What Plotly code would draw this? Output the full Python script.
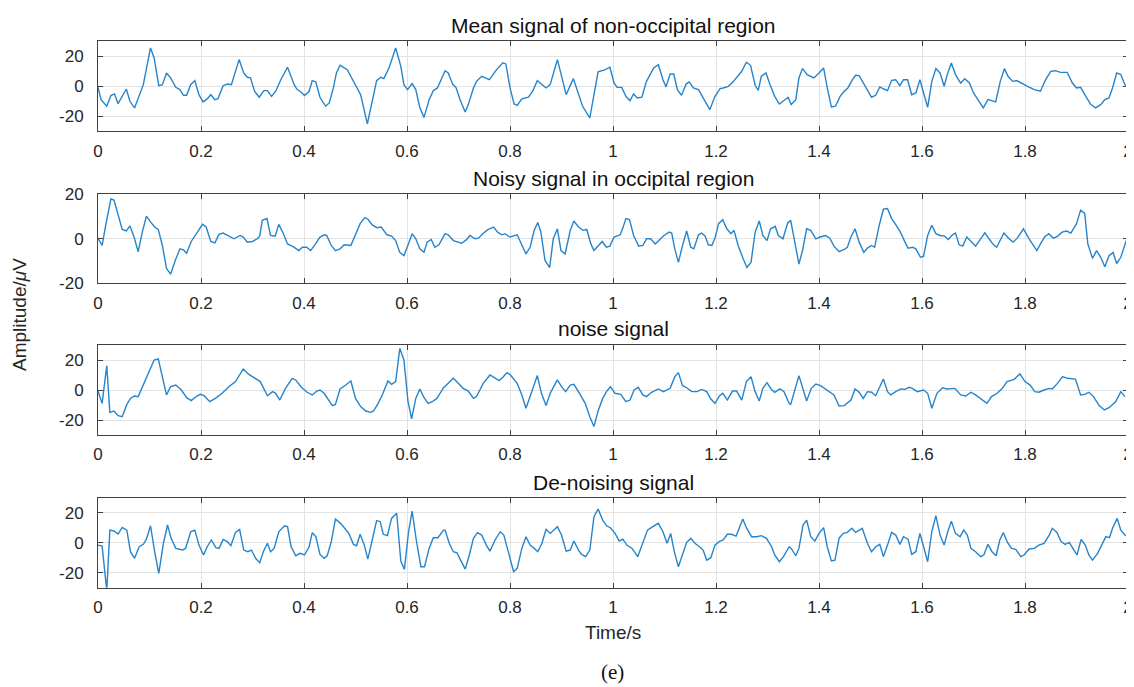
import plotly.graph_objects as go

# ---------------- data: (time [s], amplitude [uV]) ----------------
mean_signal = [
(0.000,-0.7),(0.006,-8.9),(0.017,-13.3),(0.025,-6.2),(0.032,-5.1),(0.039,-11.6),(0.055,-1.8),(0.062,-10.0),
(0.071,-14.4),(0.088,1.1),(0.102,25.6),(0.109,18.9),(0.118,0.4),(0.125,1.1),(0.133,8.9),(0.141,5.6),
(0.151,-0.7),(0.159,-2.2),(0.166,-6.0),(0.172,-6.0),(0.180,1.1),(0.188,3.8),(0.196,-5.6),(0.204,-10.4),
(0.212,-8.4),(0.219,-5.6),(0.227,-8.9),(0.233,-8.2),(0.243,0.4),(0.251,1.5),(0.259,1.1),(0.274,17.8),
(0.283,8.9),(0.290,6.0),(0.296,5.6),(0.304,-3.3),(0.313,-7.3),(0.322,-2.9),(0.329,-2.9),(0.337,-6.7),
(0.345,-3.3),(0.355,4.4),(0.368,12.7),(0.381,1.1),(0.386,-1.8),(0.394,-3.8),(0.401,-6.2),(0.410,-3.3),
(0.416,3.8),(0.423,2.9),(0.431,-7.3),(0.442,-13.3),(0.449,-11.1),(0.457,-1.1),(0.463,8.9),(0.470,14.0),
(0.484,11.1),(0.494,4.4),(0.504,-2.2),(0.510,-5.6),(0.523,-25.1),(0.533,-7.8),(0.541,3.8),(0.549,6.0),
(0.555,5.1),(0.565,12.2),(0.578,25.6),(0.588,13.3),(0.594,1.1),(0.601,-2.2),(0.610,1.8),(0.617,-2.2),
(0.625,-14.4),(0.633,-20.7),(0.643,-8.9),(0.651,-2.9),(0.659,-1.1),(0.674,10.4),(0.680,8.9),(0.689,1.1),
(0.695,-0.7),(0.703,-8.9),(0.713,-17.1),(0.719,-12.2),(0.729,-1.1),(0.735,3.3),(0.745,6.7),(0.760,4.4),
(0.774,11.1),(0.786,15.6),(0.792,14.9),(0.800,-1.1),(0.808,-11.8),(0.814,-12.7),(0.823,-8.4),(0.836,-7.3),
(0.844,-3.3),(0.853,3.8),(0.862,1.5),(0.870,-1.1),(0.878,1.1),(0.892,17.8),(0.901,5.6),(0.909,-5.6),
(0.923,5.1),(0.933,-5.6),(0.941,-13.3),(0.955,-21.1),(0.965,-3.3),(0.971,9.6),(0.984,10.9),(0.994,12.7),
(1.002,2.2),(1.008,-0.7),(1.017,-0.7),(1.025,-6.7),(1.033,-9.6),(1.040,-5.1),(1.047,-7.8),(1.056,-7.3),
(1.065,3.3),(1.079,12.2),(1.088,14.4),(1.097,4.4),(1.103,-0.4),(1.111,8.2),(1.118,8.2),(1.125,-2.2),
(1.133,-6.0),(1.142,1.5),(1.148,2.9),(1.156,-1.1),(1.166,-2.2),(1.175,-7.3),(1.188,-15.6),(1.198,-6.7),
(1.208,-1.5),(1.214,-1.1),(1.224,0.0),(1.234,3.3),(1.250,10.0),(1.259,16.0),(1.267,14.0),(1.276,0.7),
(1.282,-2.7),(1.288,6.7),(1.297,8.9),(1.305,1.1),(1.314,-6.7),(1.323,-11.8),(1.331,-9.6),(1.340,-7.3),
(1.346,-12.2),(1.355,-8.9),(1.361,5.6),(1.368,11.8),(1.377,7.8),(1.390,5.6),(1.400,8.9),(1.409,12.2),
(1.416,-1.1),(1.424,-13.8),(1.432,-13.3),(1.441,-6.7),(1.449,-3.3),(1.456,-1.1),(1.465,4.4),(1.471,7.3),
(1.478,7.1),(1.491,-0.7),(1.502,-7.3),(1.510,-6.0),(1.518,-0.4),(1.526,-1.8),(1.533,-2.9),(1.541,4.0),
(1.549,4.4),(1.557,0.4),(1.564,4.4),(1.572,4.4),(1.580,-5.6),(1.588,-4.4),(1.596,4.4),(1.604,-5.6),
(1.611,-14.0),(1.619,3.3),(1.627,11.8),(1.635,8.9),(1.643,0.0),(1.649,7.8),(1.657,15.6),(1.665,7.8),
(1.675,2.2),(1.683,5.1),(1.692,2.2),(1.700,-4.4),(1.708,-8.9),(1.719,-14.4),(1.728,-8.9),(1.737,-9.6),
(1.743,-10.4),(1.752,3.3),(1.760,11.8),(1.767,6.7),(1.776,3.3),(1.784,3.8),(1.792,2.2),(1.805,0.0),
(1.818,-2.2),(1.830,-3.3),(1.840,4.4),(1.850,10.0),(1.859,10.4),(1.869,9.3),(1.882,9.3),(1.892,2.2),
(1.900,-1.1),(1.908,-0.7),(1.918,-6.7),(1.928,-12.2),(1.937,-14.4),(1.947,-12.2),(1.955,-8.9),(1.963,-7.8),
(1.970,-1.1),(1.978,8.9),(1.986,7.8),(1.994,1.1),(2.000,0.0),
]

noisy_signal = [
(0.000,0.3),(0.008,-3.0),(0.015,6.1),(0.025,17.9),(0.031,17.4),(0.039,10.6),(0.047,4.2),(0.055,3.5),
(0.062,5.8),(0.070,0.8),(0.078,-5.8),(0.086,3.0),(0.094,10.2),(0.102,7.6),(0.110,5.3),(0.117,4.2),
(0.125,-3.0),(0.133,-13.3),(0.141,-15.9),(0.150,-9.8),(0.159,-4.5),(0.166,-5.0),(0.172,-6.5),(0.181,-1.2),
(0.190,1.8),(0.198,4.5),(0.203,6.5),(0.210,5.3),(0.219,-1.2),(0.227,-1.8),(0.235,2.0),(0.243,2.6),
(0.251,1.5),(0.264,0.0),(0.276,1.5),(0.282,0.8),(0.290,-1.5),(0.300,-1.2),(0.309,0.0),(0.314,1.2),
(0.319,8.3),(0.328,9.1),(0.335,1.5),(0.344,1.2),(0.351,6.5),(0.360,2.3),(0.368,-2.3),(0.379,-3.5),
(0.390,-5.3),(0.397,-3.8),(0.405,-3.8),(0.413,-5.3),(0.421,-2.7),(0.431,0.8),(0.439,1.8),(0.444,1.5),
(0.453,-3.0),(0.461,-5.3),(0.470,-4.5),(0.478,-2.7),(0.491,-3.0),(0.500,1.8),(0.509,6.8),(0.518,9.5),
(0.524,8.8),(0.533,6.1),(0.542,5.0),(0.550,5.3),(0.561,1.8),(0.570,1.2),(0.578,-0.8),(0.586,-6.1),
(0.594,-7.6),(0.604,-1.5),(0.610,2.3),(0.617,0.0),(0.625,-4.5),(0.633,-6.1),(0.639,-1.5),(0.647,-0.3),
(0.654,-3.8),(0.662,-2.7),(0.674,2.3),(0.680,1.8),(0.690,-0.8),(0.706,-2.0),(0.715,-0.5),(0.722,1.5),
(0.732,0.0),(0.739,0.3),(0.747,2.3),(0.757,4.1),(0.768,5.3),(0.776,3.0),(0.784,1.8),(0.790,2.3),
(0.800,0.8),(0.814,1.8),(0.823,-3.0),(0.831,-6.8),(0.839,-3.8),(0.847,3.8),(0.854,7.3),(0.860,3.0),
(0.868,-9.8),(0.877,-12.9),(0.884,0.0),(0.892,4.5),(0.899,-5.3),(0.907,-6.8),(0.917,3.8),(0.924,8.0),
(0.933,5.3),(0.942,3.8),(0.949,4.2),(0.957,-2.3),(0.963,-5.3),(0.972,-3.0),(0.979,-1.2),(0.987,-3.8),
(0.994,-3.3),(1.002,0.8),(1.014,1.8),(1.019,4.8),(1.025,9.1),(1.032,8.6),(1.040,1.5),(1.050,-3.3),
(1.058,-3.0),(1.065,0.0),(1.073,0.0),(1.082,-2.3),(1.088,-0.8),(1.099,1.5),(1.109,3.0),(1.114,2.6),
(1.120,-4.5),(1.127,-10.6),(1.135,-3.0),(1.143,3.5),(1.151,-3.8),(1.157,-4.5),(1.166,1.8),(1.172,2.6),
(1.179,1.2),(1.185,-2.7),(1.192,-3.0),(1.198,0.3),(1.205,6.8),(1.213,8.6),(1.221,4.5),(1.229,2.3),
(1.235,3.8),(1.243,-3.0),(1.253,-9.1),(1.260,-12.9),(1.268,-10.6),(1.276,3.0),(1.284,8.0),(1.291,1.5),
(1.299,-0.8),(1.306,4.5),(1.315,5.6),(1.321,1.5),(1.330,0.0),(1.339,7.0),(1.345,8.3),(1.353,-2.3),
(1.361,-11.4),(1.368,-5.3),(1.376,4.5),(1.384,3.8),(1.394,0.0),(1.402,0.8),(1.413,1.5),(1.421,0.3),
(1.429,-3.3),(1.439,-5.8),(1.449,-4.8),(1.455,-3.8),(1.462,0.8),(1.470,4.5),(1.478,-1.5),(1.487,-6.1),
(1.494,-4.2),(1.502,-3.0),(1.508,-3.8),(1.517,6.1),(1.525,13.3),(1.533,13.6),(1.541,9.1),(1.549,6.4),
(1.558,3.0),(1.567,-1.5),(1.573,-4.2),(1.582,-3.8),(1.588,-4.5),(1.597,-8.3),(1.603,-7.9),(1.611,1.5),
(1.619,6.1),(1.627,2.3),(1.635,1.5),(1.644,1.2),(1.651,-0.3),(1.659,1.8),(1.665,2.6),(1.672,-2.7),
(1.679,-3.3),(1.687,0.8),(1.694,-0.8),(1.704,-3.3),(1.714,0.0),(1.722,2.7),(1.730,0.0),(1.739,-2.7),
(1.745,-3.8),(1.753,0.0),(1.759,2.6),(1.769,0.0),(1.777,-1.5),(1.785,0.3),(1.797,4.5),(1.808,0.0),
(1.816,-3.0),(1.823,-5.3),(1.830,-2.3),(1.838,0.8),(1.846,2.3),(1.855,0.3),(1.863,1.1),(1.872,3.0),
(1.881,3.5),(1.889,2.6),(1.900,6.8),(1.908,12.9),(1.916,11.4),(1.922,-2.3),(1.931,-8.8),(1.939,-5.3),
(1.947,-8.3),(1.955,-12.6),(1.963,-7.6),(1.971,-6.1),(1.978,-11.1),(1.986,-8.3),(2.000,1.5),
]

noise_signal = [
(0.000,-0.7),(0.008,-8.9),(0.017,16.2),(0.023,-14.9),(0.031,-14.0),(0.039,-17.1),(0.047,-17.8),(0.056,-9.6),
(0.063,-5.6),(0.071,-4.0),(0.078,-4.4),(0.086,2.2),(0.096,10.0),(0.109,20.0),(0.117,20.7),(0.125,7.8),
(0.133,-3.3),(0.141,2.2),(0.151,3.3),(0.162,0.0),(0.172,-5.1),(0.181,-7.1),(0.192,-4.0),(0.199,-2.9),
(0.206,-3.8),(0.217,-7.8),(0.228,-5.6),(0.241,-2.2),(0.254,2.2),(0.267,5.6),(0.282,14.0),(0.293,10.4),
(0.303,8.2),(0.315,5.6),(0.329,-3.8),(0.339,-1.1),(0.345,-2.2),(0.353,-6.7),(0.364,1.1),(0.377,7.8),
(0.384,6.7),(0.394,2.2),(0.406,-1.5),(0.416,-3.3),(0.425,-0.7),(0.431,0.0),(0.439,-2.2),(0.449,-7.3),
(0.455,-10.4),(0.461,-9.6),(0.470,0.7),(0.481,3.3),(0.491,6.0),(0.500,-5.6),(0.510,-11.1),(0.520,-14.0),
(0.529,-14.9),(0.535,-14.0),(0.544,-8.9),(0.552,-3.3),(0.563,6.0),(0.570,3.8),(0.578,5.6),(0.586,27.8),
(0.594,20.0),(0.602,-7.8),(0.609,-19.3),(0.617,-5.6),(0.625,0.7),(0.632,-4.4),(0.641,-8.9),(0.649,-7.8),
(0.658,-5.6),(0.671,1.5),(0.677,3.3),(0.690,7.8),(0.700,4.4),(0.709,1.1),(0.719,-0.7),(0.729,-5.6),
(0.735,-4.4),(0.748,4.4),(0.761,10.0),(0.771,7.8),(0.779,6.2),(0.787,8.9),(0.794,11.6),(0.801,10.0),
(0.814,4.4),(0.823,-3.3),(0.831,-12.2),(0.840,-3.3),(0.853,9.6),(0.861,-2.2),(0.870,-10.4),(0.878,-2.2),
(0.892,6.7),(0.900,2.2),(0.908,-1.1),(0.917,3.3),(0.924,3.8),(0.935,-2.2),(0.946,-8.9),(0.955,-17.8),
(0.963,-24.4),(0.971,-14.0),(0.980,-5.6),(0.988,-0.7),(0.995,2.2),(1.004,-2.2),(1.015,-2.9),(1.025,-7.8),
(1.033,-6.7),(1.041,0.0),(1.049,1.8),(1.058,-3.3),(1.065,-4.4),(1.075,-1.5),(1.088,0.7),(1.098,-1.1),
(1.111,1.1),(1.120,8.9),(1.127,11.6),(1.135,2.9),(1.143,1.5),(1.153,-1.1),(1.163,-1.1),(1.172,0.4),
(1.182,-1.1),(1.190,-6.0),(1.198,-8.9),(1.207,-3.8),(1.213,-2.2),(1.222,-6.7),(1.232,-0.7),(1.240,-0.7),
(1.250,-6.7),(1.259,5.6),(1.268,8.9),(1.276,-1.1),(1.284,-7.3),(1.291,1.1),(1.299,4.9),(1.307,0.7),
(1.314,-1.5),(1.324,0.7),(1.332,-1.1),(1.342,-8.9),(1.345,-9.6),(1.361,9.6),(1.376,-7.3),(1.385,1.1),
(1.394,4.0),(1.403,2.9),(1.416,0.0),(1.429,-3.3),(1.439,-10.7),(1.449,-10.4),(1.462,-6.7),(1.470,0.7),
(1.478,-1.5),(1.486,-5.6),(1.494,-1.1),(1.502,-1.5),(1.510,-3.8),(1.525,7.3),(1.533,-1.1),(1.539,-3.3),
(1.549,-1.1),(1.559,0.7),(1.567,0.4),(1.575,1.8),(1.581,1.1),(1.591,-1.1),(1.603,0.0),(1.611,-2.2),
(1.619,-12.2),(1.629,-2.2),(1.640,1.5),(1.648,0.7),(1.664,1.1),(1.675,-3.3),(1.685,-4.0),(1.695,-1.5),
(1.704,-3.3),(1.715,-6.0),(1.726,-8.9),(1.735,-4.4),(1.746,-2.2),(1.756,1.1),(1.765,5.6),(1.779,7.1),
(1.790,10.7),(1.800,5.6),(1.810,3.3),(1.819,-1.1),(1.827,-1.5),(1.837,0.0),(1.847,1.1),(1.853,0.7),
(1.863,4.4),(1.873,8.9),(1.882,7.8),(1.898,7.3),(1.908,-3.3),(1.916,-2.9),(1.924,-1.5),(1.933,-4.4),
(1.944,-10.4),(1.954,-13.3),(1.963,-11.8),(1.976,-7.8),(1.986,-1.1),(1.994,-4.4),
]

denoised_signal = [
(0.000,-1.6),(0.008,-2.2),(0.017,-32.0),(0.023,8.4),(0.031,7.8),(0.039,5.8),(0.047,10.2),(0.056,8.4),
(0.063,-6.0),(0.071,-10.4),(0.080,-2.7),(0.088,-1.1),(0.094,2.4),(0.102,11.3),(0.110,-6.0),(0.118,-20.4),
(0.127,-0.4),(0.135,11.8),(0.142,2.9),(0.151,-3.8),(0.164,-4.9),(0.170,-3.8),(0.180,7.3),(0.188,8.4),
(0.196,-1.6),(0.205,-8.2),(0.212,-2.7),(0.220,1.8),(0.229,-3.3),(0.235,-3.8),(0.243,2.2),(0.251,0.7),
(0.258,-2.0),(0.267,6.9),(0.275,8.9),(0.283,-4.9),(0.291,-6.0),(0.298,-4.9),(0.306,-10.4),(0.314,-13.3),
(0.321,-6.0),(0.329,-0.4),(0.335,-6.0),(0.342,-3.8),(0.351,7.3),(0.362,11.3),(0.368,10.7),(0.375,-2.7),
(0.384,-8.7),(0.392,-7.1),(0.401,-8.2),(0.410,-2.7),(0.416,6.7),(0.423,4.0),(0.431,-7.8),(0.439,-10.4),
(0.445,-8.7),(0.453,0.7),(0.461,15.8),(0.471,12.9),(0.479,9.6),(0.487,6.2),(0.496,-1.1),(0.502,-2.0),
(0.509,5.6),(0.517,-1.6),(0.524,-10.9),(0.533,2.9),(0.541,14.7),(0.548,14.0),(0.554,5.6),(0.562,4.7),
(0.570,16.2),(0.580,19.6),(0.588,-12.2),(0.595,-17.8),(0.603,7.3),(0.610,21.1),(0.618,1.8),(0.627,-16.0),
(0.634,-16.0),(0.643,-3.8),(0.651,3.3),(0.660,3.3),(0.671,8.4),(0.674,8.4),(0.682,-0.4),(0.690,-6.0),
(0.697,-6.7),(0.704,-11.6),(0.713,-17.6),(0.721,-8.2),(0.729,2.9),(0.737,6.7),(0.745,5.1),(0.754,-1.6),
(0.761,-5.6),(0.771,1.8),(0.781,7.3),(0.788,5.1),(0.797,-6.0),(0.807,-19.3),(0.814,-17.1),(0.823,-3.8),
(0.831,4.0),(0.839,-1.6),(0.847,-3.8),(0.854,-6.0),(0.862,-0.4),(0.870,8.9),(0.878,6.2),(0.892,10.7),
(0.900,5.1),(0.909,-5.6),(0.917,-4.9),(0.924,1.1),(0.933,-4.9),(0.939,-7.8),(0.947,-9.3),(0.955,-4.9),
(0.963,17.3),(0.971,22.4),(0.980,15.1),(0.988,11.1),(0.995,10.0),(1.004,6.2),(1.012,1.1),(1.019,2.4),
(1.027,-1.6),(1.037,-3.8),(1.048,-9.3),(1.058,0.7),(1.067,8.4),(1.075,10.2),(1.088,12.9),(1.097,7.3),
(1.105,-0.4),(1.112,6.2),(1.119,-6.0),(1.127,-16.0),(1.135,-7.1),(1.143,0.2),(1.151,2.9),(1.159,-0.4),
(1.168,-2.7),(1.175,-4.9),(1.182,-11.6),(1.190,-10.0),(1.198,-1.6),(1.206,0.7),(1.214,1.8),(1.222,5.6),
(1.230,5.6),(1.239,4.4),(1.252,15.8),(1.259,10.0),(1.269,4.0),(1.279,4.0),(1.288,4.7),(1.298,2.9),
(1.308,-2.7),(1.314,-8.2),(1.323,-12.7),(1.331,-9.3),(1.342,-2.7),(1.346,-3.8),(1.355,-8.7),(1.361,-3.8),
(1.369,11.8),(1.376,15.1),(1.384,4.0),(1.392,1.1),(1.400,6.2),(1.409,10.0),(1.416,-2.7),(1.424,-12.2),
(1.431,-11.6),(1.439,2.9),(1.447,6.2),(1.455,6.9),(1.464,9.6),(1.471,6.9),(1.484,9.6),(1.494,-0.4),
(1.502,-6.0),(1.510,-2.7),(1.518,-1.1),(1.525,-9.3),(1.533,-1.6),(1.541,6.9),(1.549,5.1),(1.557,-1.1),
(1.564,4.0),(1.573,2.4),(1.580,-7.8),(1.588,-6.0),(1.596,6.2),(1.604,-3.8),(1.611,-12.7),(1.619,7.3),
(1.627,18.0),(1.635,5.1),(1.643,-1.6),(1.650,7.3),(1.657,14.4),(1.665,6.2),(1.674,4.0),(1.681,8.4),
(1.688,5.1),(1.695,-3.8),(1.704,-6.0),(1.714,-9.3),(1.720,-8.2),(1.728,-1.1),(1.736,-6.0),(1.744,-8.7),
(1.751,1.8),(1.758,6.7),(1.766,0.2),(1.774,-3.8),(1.782,-4.4),(1.792,-9.3),(1.798,-8.2),(1.808,-4.2),
(1.818,-3.8),(1.827,-1.6),(1.837,-0.4),(1.847,5.1),(1.853,9.6),(1.862,6.9),(1.870,0.7),(1.878,-1.1),
(1.886,0.2),(1.895,-4.9),(1.901,-8.2),(1.909,2.2),(1.917,-1.6),(1.924,-8.2),(1.931,-11.6),(1.941,-7.1),
(1.951,-0.4),(1.957,4.0),(1.964,3.3),(1.970,9.6),(1.979,16.2),(1.986,8.4),(1.994,5.1),(2.000,4.0),
]

panel_titles = ["Mean signal of non-occipital region", "Noisy signal in occipital region",
                "noise signal", "De-noising signal"]
series = [mean_signal, noisy_signal, noise_signal, denoised_signal]
y_ranges = [[-30, 30], [-20, 20], [-30, 30], [-30, 30]]
y_tickvals = [20, 0, -20]
y_ticktext = ["20", "0", "-20"]
x_tickvals = [0, 0.2, 0.4, 0.6, 0.8, 1.0, 1.2, 1.4, 1.6, 1.8, 2.0]
x_ticktext = ["0", "0.2", "0.4", "0.6", "0.8", "1", "1.2", "1.4", "1.6", "1.8", "2"]

# ---------------- layout (pixel geometry) ----------------
# the page body adds an 8 px offset, so the figure is 8 px smaller and shifted
OFF = 8
W, H = 1134 - OFF, 687 - OFF
ML, MR = 98 - OFF, 6
panel_px = [(41.3, 131.3), (194.3, 283.3), (345.0, 435.0), (497.7, 587.7)]
title_px = [25, 178, 328, 482]

LINE = "#2684ca"
AX = "#404040"
GRID = "#e3e3e3"
FONT = "Liberation Sans, Arial, sans-serif"
TICK_SIZE, LABEL_SIZE, TITLE_SIZE = 17, 19, 21

fig = go.Figure()
layout = dict(width=W, height=H, autosize=False, template="none",
              margin=dict(l=ML, r=MR, t=0, b=0, pad=0),
              paper_bgcolor="white", plot_bgcolor="white",
              showlegend=False, font=dict(family=FONT, size=TICK_SIZE, color="#262626"))

def py(px):
    return 1 - (px - OFF) / H

plot_w = W - ML - MR
def pxx(px):
    return (px - OFF - ML) / plot_w

annotations = []
for i, (data, (top, bot)) in enumerate(zip(series, panel_px)):
    n = i + 1
    xs = [p[0] for p in data]
    ys = [p[1] for p in data]
    xa = "x" if n == 1 else f"x{n}"
    ya = "y" if n == 1 else f"y{n}"
    fig.add_trace(go.Scatter(x=xs, y=ys, mode="lines", xaxis=xa, yaxis=ya,
                             line=dict(color=LINE, width=1.4), hoverinfo="skip"))
    common = dict(showline=True, linecolor=AX, linewidth=1, mirror="ticks",
                  ticks="inside", ticklen=5, tickcolor=AX, tickwidth=1,
                  showgrid=True, gridcolor=GRID, gridwidth=1, zeroline=False,
                  automargin=False,
                  tickfont=dict(family=FONT, size=TICK_SIZE, color="#262626"))
    layout["xaxis" if n == 1 else f"xaxis{n}"] = dict(
        common, domain=[0, 1], anchor=ya, range=[0, 2],
        tickvals=x_tickvals, ticktext=x_ticktext, ticklabelstandoff=4)
    layout["yaxis" if n == 1 else f"yaxis{n}"] = dict(
        common, domain=[py(bot), py(top)], anchor=xa, range=y_ranges[i],
        tickvals=y_tickvals, ticktext=y_ticktext, ticklabelstandoff=10)
    annotations.append(dict(text=panel_titles[i], xref="paper", yref="paper",
                            x=0.5, y=py(title_px[i]), xanchor="center", yanchor="middle",
                            showarrow=False,
                            font=dict(family=FONT, size=TITLE_SIZE, color="#111111")))

annotations.append(dict(text="Amplitude/<i>μ</i>V", xref="paper", yref="paper",
                        x=pxx(20), y=py(315), xanchor="center", yanchor="middle",
                        textangle=-90, showarrow=False,
                        font=dict(family=FONT, size=LABEL_SIZE, color="#262626")))
annotations.append(dict(text="Time/s", xref="paper", yref="paper",
                        x=0.5, y=py(632), xanchor="center", yanchor="middle",
                        showarrow=False, font=dict(family=FONT, size=LABEL_SIZE, color="#262626")))
annotations.append(dict(text="(e)", xref="paper", yref="paper",
                        x=pxx(612), y=py(672), xanchor="center", yanchor="middle",
                        showarrow=False,
                        font=dict(family="Liberation Serif, Times New Roman, serif", size=21,
                                  color="#111111")))
layout["annotations"] = annotations
fig.update_layout(**layout)
fig.write_html("out.html")
